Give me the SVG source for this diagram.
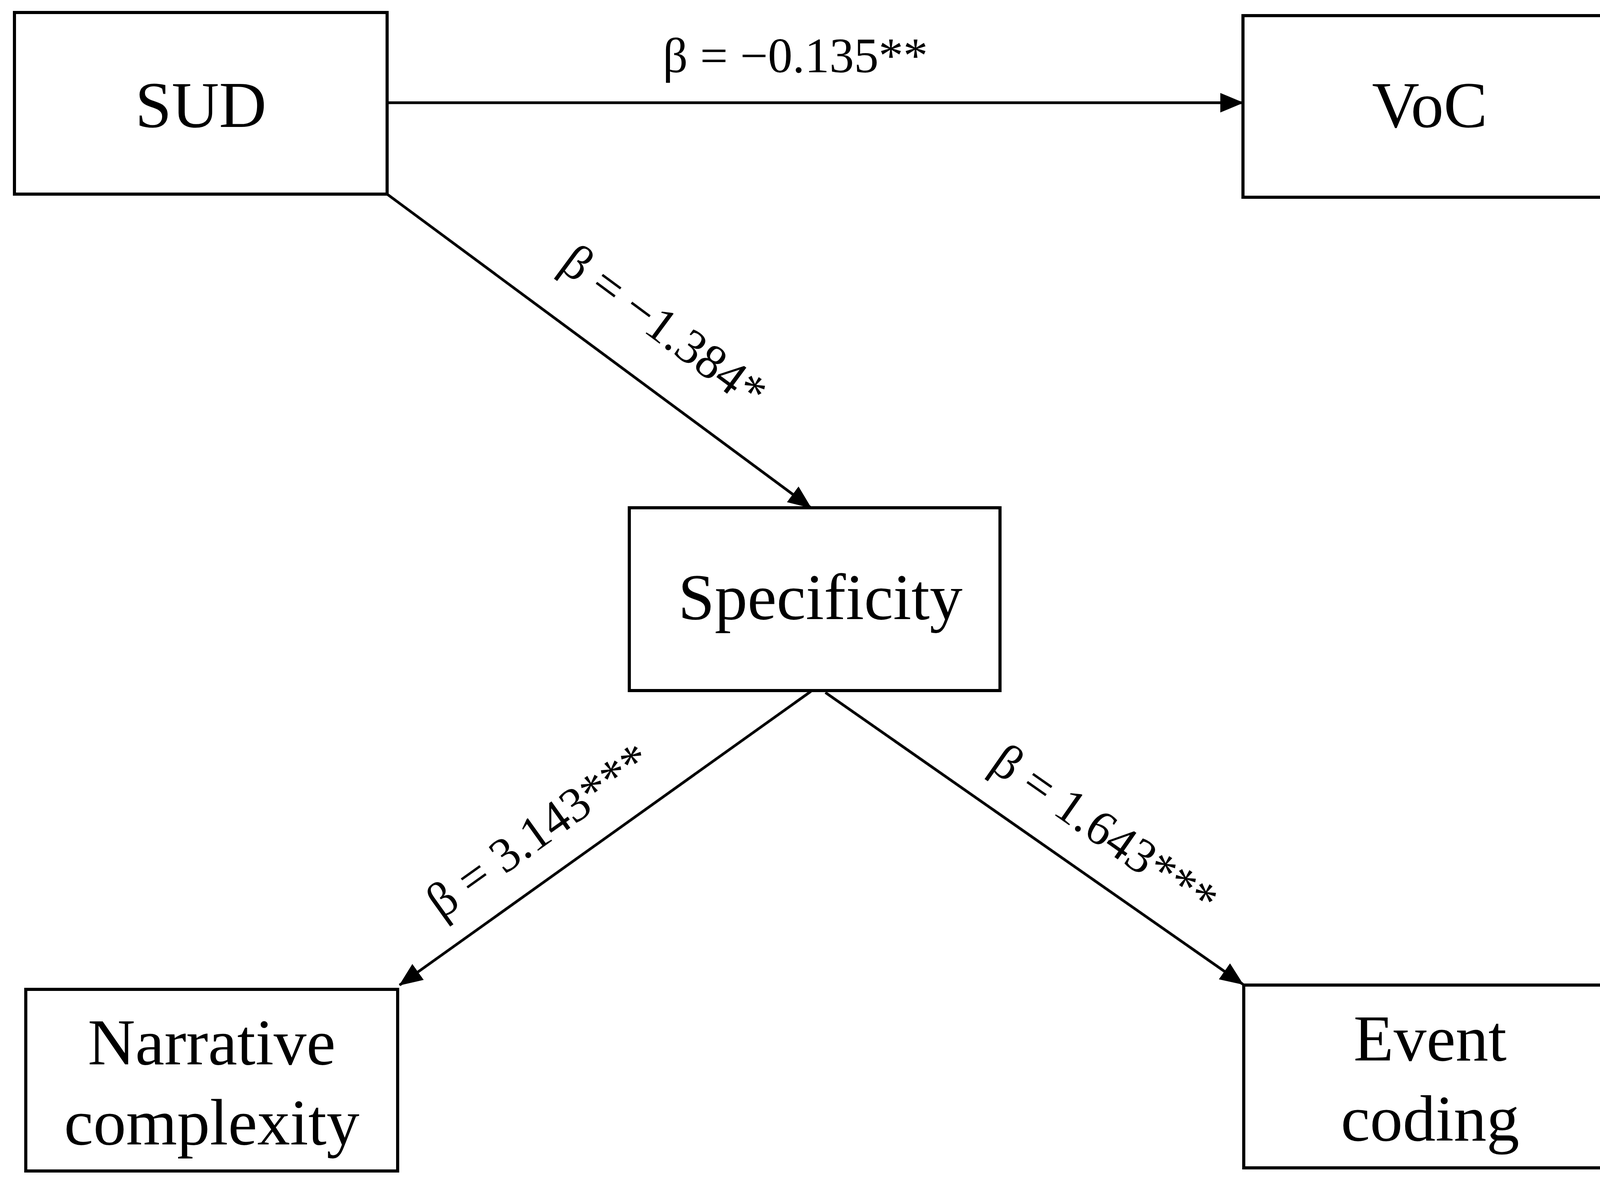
<svg xmlns="http://www.w3.org/2000/svg" width="4168" height="3039" viewBox="0 0 4168 3039">
<style>
.box{fill:#fff;stroke:#000;stroke-width:8}
.t{font-family:"Liberation Serif","Times New Roman",serif;font-size:168px;text-anchor:middle;fill:#000}
.l{font-family:"Liberation Serif","Times New Roman",serif;font-size:126px;text-anchor:middle;fill:#000}
.c{stroke:#000;stroke-width:7;fill:none;marker-end:url(#a)}
</style>
<defs><marker id="a" markerUnits="userSpaceOnUse" markerWidth="60" markerHeight="50" refX="58" refY="25" orient="auto"><path d="M0,0 L60,25 L0,50 Z" fill="#000"/></marker></defs>
<rect width="4168" height="3039" fill="#fff"/>
<g id="connectors">
<line class="c" x1="991" y1="263" x2="3182" y2="263"/>
<line class="c" x1="991" y1="497" x2="2076" y2="1300"/>
<line class="c" x1="2076" y1="1770" x2="1023" y2="2522"/>
<line class="c" x1="2113" y1="1773" x2="3182" y2="2520"/>
</g>
<g id="labels">
<text class="l" x="2036" y="185">β = −0.135**</text>
<text class="l" transform="translate(1675,870) rotate(36.5)">β = −1.384*</text>
<text class="l" transform="translate(1403,2160) rotate(-35.6)">β = 3.143***</text>
<text class="l" transform="translate(2804,2160) rotate(35)">β = 1.643***</text>
</g>
<g id="SUD"><rect class="box" x="37" y="32" width="954" height="465"/><text class="t" x="514" y="325">SUD</text></g>
<g id="VoC"><rect class="box" x="3182" y="40" width="957" height="465"/><text class="t" x="3660" y="325">VoC</text></g>
<g id="Specificity"><rect class="box" x="1611" y="1300" width="949" height="468"/><text class="t" x="2100" y="1585">Specificity</text></g>
<g id="Narrative"><rect class="box" x="66" y="2533" width="952" height="465"/><text class="t" x="542" y="2725">Narrative</text><text class="t" x="542" y="2930">complexity</text></g>
<g id="Event"><rect class="box" x="3184" y="2522" width="955" height="468"/><text class="t" x="3661" y="2715">Event</text><text class="t" x="3661" y="2920">coding</text></g>
</svg>
